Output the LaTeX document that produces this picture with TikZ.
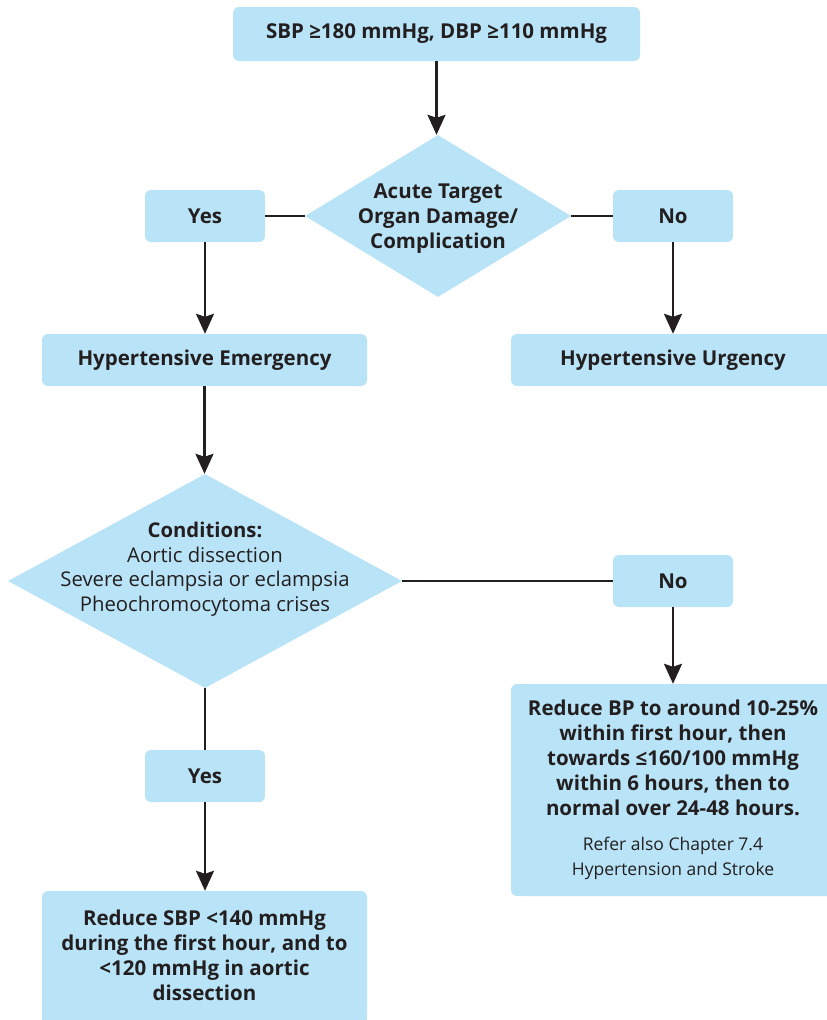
\documentclass[tikz,border=0pt]{standalone}
\usepackage{fontspec}
\setmainfont{Open Sans}
\usetikzlibrary{shapes.geometric,arrows.meta}
\definecolor{boxblue}{HTML}{B9E4F8}
\definecolor{ink}{HTML}{231F20}
\newcommand{\smallreg}{\mdseries\fontsize{17.5}{21.5}\selectfont}
\tikzset{
  box/.style={fill=boxblue, rounded corners=6pt, inner sep=0pt, align=center,
    text=ink, font=\bfseries\fontsize{20.5}{25}\selectfont},
  dia/.style={diamond, fill=boxblue, inner sep=0pt},
  dtext/.style={align=center, text=ink, inner sep=0pt},
  conn/.style={draw=ink, line width=2.4pt},
  arr/.style={conn, -{Stealth[length=20pt,width=18pt,inset=3pt]}},
}
\begin{document}
\begin{tikzpicture}[x=1pt,y=-1pt]
\useasboundingbox (0,0) rectangle (827,1020);
% nodes
\node[box, minimum width=407pt, minimum height=54pt] (top) at (436.5,34) {SBP ≥180 mmHg, DBP ≥110 mmHg};
\node[dia, minimum width=266pt, minimum height=162pt] (d1) at (438,216) {};
\node[dtext, font=\bfseries\fontsize{20.5}{25}\selectfont] (d1t) at (438,219) {Acute Target\\Organ Damage/\\Complication};
\node[box, minimum width=120pt, minimum height=52pt] (yes1) at (205,216) {Yes};
\node[box, minimum width=120pt, minimum height=52pt] (no1) at (673,216) {No};
\node[box, minimum width=325pt, minimum height=52pt] (emerg) at (204.5,360) {Hypertensive Emergency};
\node[box, minimum width=324pt, minimum height=52pt] (urg) at (673,360) {Hypertensive Urgency};
\node[dia, minimum width=394pt, minimum height=214pt] (d2) at (205,581) {};
\node[dtext, font=\fontsize{20.3}{24.5}\selectfont] (d2t) at (205,569) {\textbf{Conditions:}\\Aortic dissection\\Severe eclampsia or eclampsia\\Pheochromocytoma crises};
\node[box, minimum width=120pt, minimum height=52pt] (no2) at (673,581) {No};
\node[box, minimum width=324pt, minimum height=212pt] (bp) at (673,790)
  {Reduce BP to around 10-25\%\\within first hour, then\\towards ≤160/100 mmHg\\within 6 hours, then to\\normal over 24-48 hours.\\[10pt]
   \smallreg Refer also Chapter 7.4\\\smallreg Hypertension and Stroke};
\node[box, minimum width=120pt, minimum height=52pt] (yes2) at (205,776) {Yes};
\fill[boxblue] (42,1000) rectangle (367,1030);
\node[box, minimum width=325pt, minimum height=129pt] (sbp) at (204.5,955.5)
  {Reduce SBP <140 mmHg\\during the first hour, and to\\<120 mmHg in aortic\\dissection};
% connectors
\draw[arr] (top.south) -- (top.south |- d1.north);
\draw[conn] (yes1.east) -- (d1.west);
\draw[conn] (d1.east) -- (no1.west);
\draw[arr] (yes1.south) -- (yes1.south |- emerg.north);
\draw[arr] (no1.south) -- (no1.south |- urg.north);
\draw[arr] (emerg.south) -- (emerg.south |- d2.north);
\draw[conn] (d2.east) -- (d2.east -| no2.west);
\draw[arr] (no2.south) -- (no2.south |- bp.north);
\draw[conn] (d2.south) -- (d2.south |- yes2.north);
\draw[arr] (yes2.south) -- (yes2.south |- sbp.north);
\end{tikzpicture}
\end{document}
